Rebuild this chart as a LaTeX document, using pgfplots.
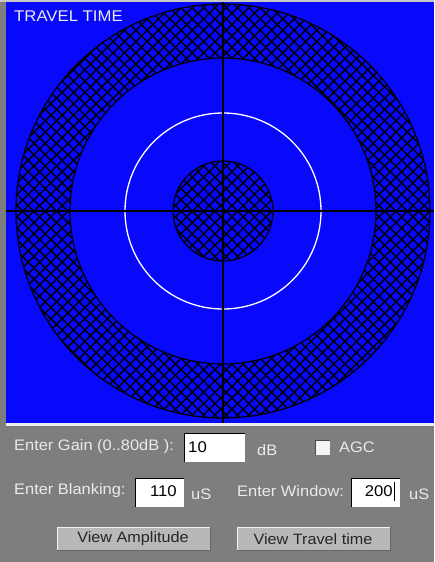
\documentclass[border=0pt]{standalone}
\usepackage{pgfplots}
\pgfplotsset{compat=1.18}
\usepackage{fontspec}
\setmainfont{Liberation Sans}[FakeStretch=1.08]
\usetikzlibrary{patterns.meta}
\definecolor{scrblue}{RGB}{8,8,250}
\definecolor{wingray}{RGB}{126,126,126}
\definecolor{btngray}{RGB}{184,184,184}
\definecolor{lighttxt}{RGB}{234,234,234}
\begin{document}
\begin{tikzpicture}
\begin{axis}[
  width=434pt, height=562pt, scale only axis,
  xmin=0, xmax=434, ymin=0, ymax=562, y dir=reverse,
  axis lines=none, clip=true,
]
% background
\fill[wingray] (axis cs:0,0) rectangle (axis cs:434,562);
\fill[btngray!80!white] (axis cs:0,0) rectangle (axis cs:434,2);
\fill[scrblue] (axis cs:6,2) rectangle (axis cs:434,423);
\fill[white!85!gray] (axis cs:6,423) rectangle (axis cs:434,426);
% outer hatched ring
\begin{scope}
\clip (axis cs:6,2) rectangle (axis cs:434,423);
\fill[even odd rule, pattern={Lines[angle=45,distance=8pt,line width=1.4pt]}, pattern color=black]
  (axis cs:223,211) circle[radius=207] (axis cs:223,211) circle[radius=153];
\fill[even odd rule, pattern={Lines[angle=-45,distance=8pt,line width=1.4pt]}, pattern color=black]
  (axis cs:223,211) circle[radius=207] (axis cs:223,211) circle[radius=153];
\draw[black, line width=1.2pt] (axis cs:223,211) circle[radius=207];
\draw[black, line width=1.2pt] (axis cs:223,211) circle[radius=153];
\end{scope}
% inner hatched disk
\fill[pattern={Lines[angle=45,distance=8pt,line width=1.4pt]}, pattern color=black]
  (axis cs:223,211) circle[radius=50];
\fill[pattern={Lines[angle=-45,distance=8pt,line width=1.4pt]}, pattern color=black]
  (axis cs:223,211) circle[radius=50];
\draw[black, line width=1.2pt] (axis cs:223,211) circle[radius=50];
% white circle
\draw[white, line width=1.3pt] (axis cs:223,211) circle[radius=98];
% crosshair
\addplot[black, line width=1.6pt] coordinates {(223,2) (223,423)};
\addplot[black, line width=1.6pt] coordinates {(6,211) (434,211)};
% title
\node[anchor=west, inner sep=0, text=lighttxt, font=\fontsize{15.5}{16}\selectfont] at (axis cs:14,16) {TRAVEL TIME};
% row 1
\node[anchor=west, inner sep=0, text=lighttxt, font=\fontsize{15.2}{16}\selectfont] at (axis cs:14,447) {Enter Gain (0..80dB ):};
\fill[white] (axis cs:184,433) rectangle (axis cs:245,462);
\draw[black, line width=1pt] (axis cs:184,462) -- (axis cs:184,433) -- (axis cs:245,433);
\node[anchor=west, inner sep=0, text=black, font=\fontsize{15.5}{16}\selectfont] at (axis cs:188,447) {10};
\node[anchor=west, inner sep=0, text=lighttxt, font=\fontsize{15.2}{16}\selectfont] at (axis cs:257,450) {dB};
\fill[white!92!gray] (axis cs:315,440) rectangle (axis cs:330,455);
\draw[black!70, line width=0.8pt] (axis cs:315,455) -- (axis cs:315,440) -- (axis cs:330,440);
\node[anchor=west, inner sep=0, text=lighttxt, font=\fontsize{15.2}{16}\selectfont] at (axis cs:339,447) {AGC};
% row 2
\node[anchor=west, inner sep=0, text=lighttxt, font=\fontsize{15.2}{16}\selectfont] at (axis cs:14,491) {Enter Blanking:};
\fill[white] (axis cs:135,478) rectangle (axis cs:184,507);
\draw[black, line width=1pt] (axis cs:135,507) -- (axis cs:135,478) -- (axis cs:184,478);
\node[anchor=east, inner sep=0, text=black, font=\fontsize{15.5}{16}\selectfont] at (axis cs:177,491) {110};
\node[anchor=west, inner sep=0, text=lighttxt, font=\fontsize{15.2}{16}\selectfont] at (axis cs:191,494) {uS};
\node[anchor=west, inner sep=0, text=lighttxt, font=\fontsize{15.2}{16}\selectfont] at (axis cs:237,491) {Enter Window:};
\fill[white] (axis cs:351,478) rectangle (axis cs:400,507);
\draw[black, line width=1pt] (axis cs:351,507) -- (axis cs:351,478) -- (axis cs:400,478);
\node[anchor=east, inner sep=0, text=black, font=\fontsize{15.5}{16}\selectfont] at (axis cs:393,491) {200};
\draw[black, line width=1pt] (axis cs:394,482) -- (axis cs:394,501);
\node[anchor=west, inner sep=0, text=lighttxt, font=\fontsize{15.2}{16}\selectfont] at (axis cs:409,494) {uS};
% buttons
\fill[btngray] (axis cs:57,527) rectangle (axis cs:210,550);
\draw[white!90!gray, line width=1pt] (axis cs:57,550) -- (axis cs:57,527) -- (axis cs:210,527);
\draw[black!60, line width=1pt] (axis cs:57,550) -- (axis cs:210,550) -- (axis cs:210,527);
\node[inner sep=0, text=black!85, font=\fontsize{15}{15}\selectfont] at (axis cs:133,539) {View Amplitude};
\fill[btngray] (axis cs:237,527) rectangle (axis cs:390,550);
\draw[white!90!gray, line width=1pt] (axis cs:237,550) -- (axis cs:237,527) -- (axis cs:390,527);
\draw[black!60, line width=1pt] (axis cs:237,550) -- (axis cs:390,550) -- (axis cs:390,527);
\node[inner sep=0, text=black!85, font=\fontsize{15}{15}\selectfont] at (axis cs:313,539) {View Travel time};
\end{axis}
\end{tikzpicture}
\end{document}
